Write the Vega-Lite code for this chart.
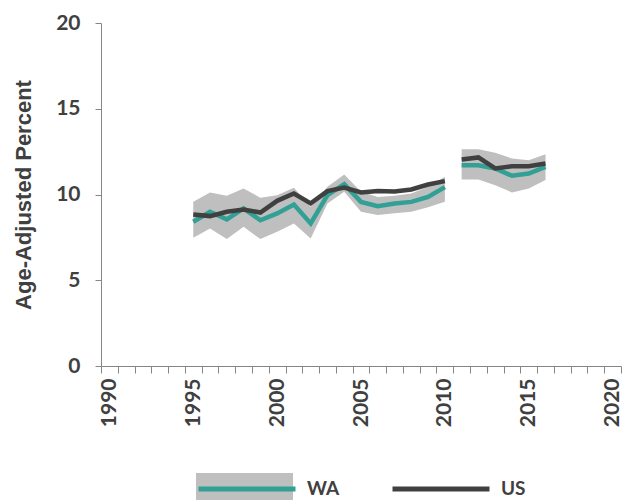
{
  "$schema": "https://vega.github.io/schema/vega-lite/v6.json",
  "autosize": {"type": "none"},
  "width": 520,
  "height": 343,
  "padding": {"left": 101, "top": 23, "right": 3, "bottom": 136},
  "background": "white",
  "config": {
    "view": {"stroke": null},
    "font": "Lato",
    "axis": {"labelFont": "Lato", "titleFont": "Liberation Sans", "labelFontWeight": "bold", "titleFontWeight": "bold", "labelColor": "#404040", "titleColor": "#404040", "labelFontSize": 21, "titleFontSize": 22, "domainColor": "#868686", "tickColor": "#868686", "grid": false},
    "legend": {"labelFont": "Lato", "labelFontWeight": "bold", "labelFontSize": 19, "labelColor": "#404040"}
  },
  "data": {
    "values": [
      {"year": 1995, "series": "WA", "period": "a", "value": 8.41, "lo": 7.48, "hi": 9.57},
      {"year": 1996, "series": "WA", "period": "a", "value": 8.99, "lo": 8.02, "hi": 10.12},
      {"year": 1997, "series": "WA", "period": "a", "value": 8.55, "lo": 7.4, "hi": 9.92},
      {"year": 1998, "series": "WA", "period": "a", "value": 9.19, "lo": 8.12, "hi": 10.35},
      {"year": 1999, "series": "WA", "period": "a", "value": 8.5, "lo": 7.4, "hi": 9.81},
      {"year": 2000, "series": "WA", "period": "a", "value": 8.9, "lo": 7.83, "hi": 9.96},
      {"year": 2001, "series": "WA", "period": "a", "value": 9.42, "lo": 8.31, "hi": 10.39},
      {"year": 2002, "series": "WA", "period": "a", "value": 8.31, "lo": 7.44, "hi": 9.28},
      {"year": 2003, "series": "WA", "period": "a", "value": 9.96, "lo": 9.48, "hi": 10.45},
      {"year": 2004, "series": "WA", "period": "a", "value": 10.6, "lo": 10.16, "hi": 11.17},
      {"year": 2005, "series": "WA", "period": "a", "value": 9.57, "lo": 8.99, "hi": 10.16},
      {"year": 2006, "series": "WA", "period": "a", "value": 9.32, "lo": 8.8, "hi": 9.86},
      {"year": 2007, "series": "WA", "period": "a", "value": 9.48, "lo": 8.9, "hi": 9.92},
      {"year": 2008, "series": "WA", "period": "a", "value": 9.57, "lo": 8.99, "hi": 10.06},
      {"year": 2009, "series": "WA", "period": "a", "value": 9.86, "lo": 9.25, "hi": 10.45},
      {"year": 2010, "series": "WA", "period": "a", "value": 10.43, "lo": 9.57, "hi": 11.03},
      {"year": 2011, "series": "WA", "period": "b", "value": 11.71, "lo": 10.88, "hi": 12.64},
      {"year": 2012, "series": "WA", "period": "b", "value": 11.71, "lo": 10.88, "hi": 12.64},
      {"year": 2013, "series": "WA", "period": "b", "value": 11.52, "lo": 10.54, "hi": 12.43},
      {"year": 2014, "series": "WA", "period": "b", "value": 11.09, "lo": 10.12, "hi": 12.1},
      {"year": 2015, "series": "WA", "period": "b", "value": 11.22, "lo": 10.35, "hi": 12.0},
      {"year": 2016, "series": "WA", "period": "b", "value": 11.61, "lo": 10.84, "hi": 12.35},
      {"year": 1995, "series": "US", "period": "a", "value": 8.84},
      {"year": 1996, "series": "US", "period": "a", "value": 8.74},
      {"year": 1997, "series": "US", "period": "a", "value": 8.99},
      {"year": 1998, "series": "US", "period": "a", "value": 9.13},
      {"year": 1999, "series": "US", "period": "a", "value": 8.95},
      {"year": 2000, "series": "US", "period": "a", "value": 9.63},
      {"year": 2001, "series": "US", "period": "a", "value": 10.06},
      {"year": 2002, "series": "US", "period": "a", "value": 9.48},
      {"year": 2003, "series": "US", "period": "a", "value": 10.2},
      {"year": 2004, "series": "US", "period": "a", "value": 10.41},
      {"year": 2005, "series": "US", "period": "a", "value": 10.12},
      {"year": 2006, "series": "US", "period": "a", "value": 10.2},
      {"year": 2007, "series": "US", "period": "a", "value": 10.18},
      {"year": 2008, "series": "US", "period": "a", "value": 10.29},
      {"year": 2009, "series": "US", "period": "a", "value": 10.58},
      {"year": 2010, "series": "US", "period": "a", "value": 10.78},
      {"year": 2011, "series": "US", "period": "b", "value": 12.04},
      {"year": 2012, "series": "US", "period": "b", "value": 12.16},
      {"year": 2013, "series": "US", "period": "b", "value": 11.52},
      {"year": 2014, "series": "US", "period": "b", "value": 11.65},
      {"year": 2015, "series": "US", "period": "b", "value": 11.65},
      {"year": 2016, "series": "US", "period": "b", "value": 11.81}
    ]
  },
  "encoding": {
    "x": {
      "field": "year",
      "type": "ordinal",
      "scale": {"domain": [1990,1991,1992,1993,1994,1995,1996,1997,1998,1999,2000,2001,2002,2003,2004,2005,2006,2007,2008,2009,2010,2011,2012,2013,2014,2015,2016,2017,2018,2019,2020], "paddingInner": 0, "paddingOuter": 0},
      "axis": {"title": null, "labelAngle": -90, "labelExpr": "datum.value % 5 === 0 ? datum.label : ''", "tickBand": "extent", "tickSize": 7, "labelPadding": 5}
    }
  },
  "layer": [
    {
      "transform": [{"filter": "datum.series === 'WA'"}],
      "mark": {"type": "area", "opacity": 1},
      "encoding": {
        "y": {"field": "lo", "type": "quantitative"},
        "y2": {"field": "hi"},
        "detail": {"field": "period"},
        "fill": {
          "field": "series",
          "type": "nominal",
          "scale": {"domain": ["WA"], "range": ["#bfbfbf"]},
          "legend": {"orient": "none", "legendX": 95, "legendY": 415, "direction": "horizontal", "title": null, "symbolType": "M-1,-0.28L1,-0.28L1,0.28L-1,0.28Z", "symbolSize": 9409, "symbolStrokeWidth": 0, "symbolOpacity": 1, "labelExpr": "''", "zindex": 0}
        }
      }
    },
    {
      "mark": {"type": "line", "strokeWidth": 4.5},
      "encoding": {
        "y": {"field": "value", "type": "quantitative", "scale": {"domain": [0, 20]}, "axis": {"title": "Age-Adjusted Percent", "values": [0, 5, 10, 15, 20], "tickSize": 6, "labelPadding": 15, "titlePadding": 20}},
        "detail": {"field": "period"},
        "stroke": {
          "field": "series",
          "type": "nominal",
          "scale": {"domain": ["WA", "US"], "range": ["#32a094", "#404040"]},
          "legend": {"orient": "none", "legendX": 95, "legendY": 415, "direction": "horizontal", "title": null, "symbolType": "stroke", "symbolSize": 9409, "symbolStrokeWidth": 5, "labelOffset": 9, "columnPadding": 42, "zindex": 1}
        }
      }
    }
  ]
}
